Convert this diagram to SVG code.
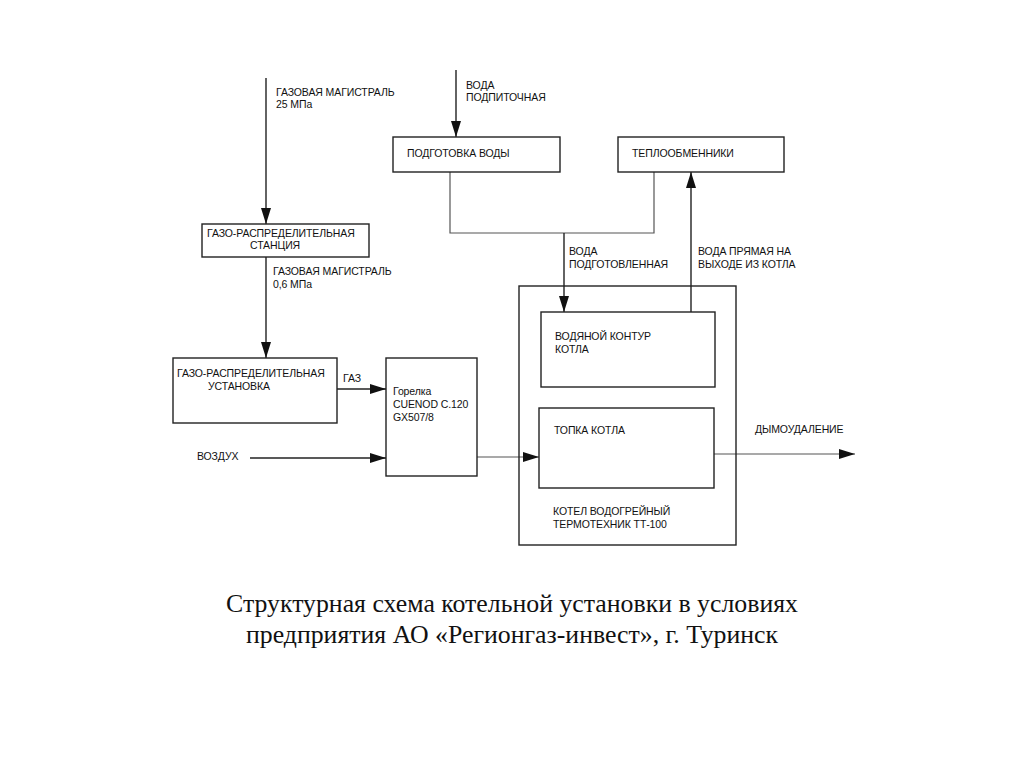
<svg xmlns="http://www.w3.org/2000/svg" width="1024" height="768" viewBox="0 0 1024 768">
<defs>
<marker id="ah" viewBox="0 0 16 10" refX="16" refY="5" markerWidth="16" markerHeight="10" markerUnits="userSpaceOnUse" orient="auto">
<path d="M0,0 L16,5 L0,10 Z" fill="#111"/>
</marker>
</defs>
<style>
.box{fill:#fff;stroke:#222;stroke-width:1.4}
.ln{fill:none;stroke:#222;stroke-width:1.4}
.lg{fill:none;stroke:#555;stroke-width:1.2}
.t{font-family:"Liberation Sans",Arial,sans-serif;font-size:10.5px;fill:#111;letter-spacing:-0.1px}
.cap{font-family:"Liberation Serif","Times New Roman",serif;font-size:25.8px;fill:#111;text-anchor:middle}
</style>
<rect width="1024" height="768" fill="#fff"/>
<g id="connectors">
<line class="ln" x1="266" y1="78" x2="266" y2="224" marker-end="url(#ah)"/>
<line class="ln" x1="266" y1="257" x2="266" y2="358" marker-end="url(#ah)"/>
<line class="ln" x1="337" y1="389" x2="386" y2="389" marker-end="url(#ah)"/>
<line class="ln" x1="250" y1="458" x2="386" y2="458" marker-end="url(#ah)"/>
<line class="lg" x1="477" y1="457" x2="539" y2="457" marker-end="url(#ah)"/>
<line class="ln" x1="456" y1="70" x2="456" y2="137" marker-end="url(#ah)"/>
<polyline class="lg" points="450,172 450,233 654,233 654,172"/>
<line class="ln" x1="564" y1="233" x2="564" y2="312" marker-end="url(#ah)"/>
<line class="ln" x1="691" y1="312" x2="691" y2="172" marker-end="url(#ah)"/>
<line class="lg" x1="714" y1="454" x2="855" y2="454" marker-end="url(#ah)"/>
</g>
<g id="label-gas25">
<text class="t" x="276" y="96">ГАЗОВАЯ МАГИСТРАЛЬ</text>
<text class="t" x="276" y="108">25 МПа</text>
</g>
<g id="label-water-in">
<text class="t" x="466" y="89">ВОДА</text>
<text class="t" x="466" y="101">ПОДПИТОЧНАЯ</text>
</g>
<g id="node-grs">
<rect class="box" x="202" y="224" width="167" height="33"/>
<text class="t" x="207" y="237">ГАЗО-РАСПРЕДЕЛИТЕЛЬНАЯ</text>
<text class="t" x="250" y="249">СТАНЦИЯ</text>
</g>
<g id="label-gas06">
<text class="t" x="273" y="275">ГАЗОВАЯ МАГИСТРАЛЬ</text>
<text class="t" x="273" y="288">0,6 МПа</text>
</g>
<g id="node-gru">
<rect class="box" x="173" y="358" width="164" height="65"/>
<text class="t" x="177" y="377">ГАЗО-РАСПРЕДЕЛИТЕЛЬНАЯ</text>
<text class="t" x="208" y="390">УСТАНОВКА</text>
</g>
<g id="label-gas"><text class="t" x="343" y="382">ГАЗ</text></g>
<g id="label-air"><text class="t" x="197" y="460">ВОЗДУХ</text></g>
<g id="node-burner">
<rect class="box" x="386" y="358" width="91" height="118"/>
<text class="t" x="393" y="395">Горелка</text>
<text class="t" x="393" y="408">CUENOD C.120</text>
<text class="t" x="393" y="421">GX507/8</text>
</g>
<g id="node-water-prep">
<rect class="box" x="393" y="137" width="167" height="35"/>
<text class="t" x="407" y="157">ПОДГОТОВКА ВОДЫ</text>
</g>
<g id="node-heat-exch">
<rect class="box" x="618" y="137" width="166" height="35"/>
<text class="t" x="632" y="157">ТЕПЛООБМЕННИКИ</text>
</g>
<g id="label-water-prepared">
<text class="t" x="569" y="255">ВОДА</text>
<text class="t" x="569" y="268">ПОДГОТОВЛЕННАЯ</text>
</g>
<g id="label-water-out">
<text class="t" x="698" y="255">ВОДА ПРЯМАЯ НА</text>
<text class="t" x="698" y="268">ВЫХОДЕ ИЗ КОТЛА</text>
</g>
<g id="node-boiler">
<rect class="box" x="519" y="286" width="217" height="259" style="fill:none"/>
<text class="t" x="553" y="515">КОТЕЛ ВОДОГРЕЙНЫЙ</text>
<text class="t" x="553" y="528">ТЕРМОТЕХНИК ТТ-100</text>
</g>
<g id="node-water-circuit">
<rect class="box" x="541" y="312" width="174" height="75"/>
<text class="t" x="555" y="340">ВОДЯНОЙ КОНТУР</text>
<text class="t" x="555" y="353">КОТЛА</text>
</g>
<g id="node-furnace">
<rect class="box" x="539" y="408" width="175" height="80"/>
<text class="t" x="554" y="434">ТОПКА КОТЛА</text>
</g>
<g id="label-smoke"><text class="t" x="755" y="433">ДЫМОУДАЛЕНИЕ</text></g>
<g id="caption">
<text class="cap" x="512" y="612">Структурная схема котельной установки в условиях</text>
<text class="cap" x="512" y="643">предприятия АО «Регионгаз-инвест», г. Туринск</text>
</g>
</svg>
